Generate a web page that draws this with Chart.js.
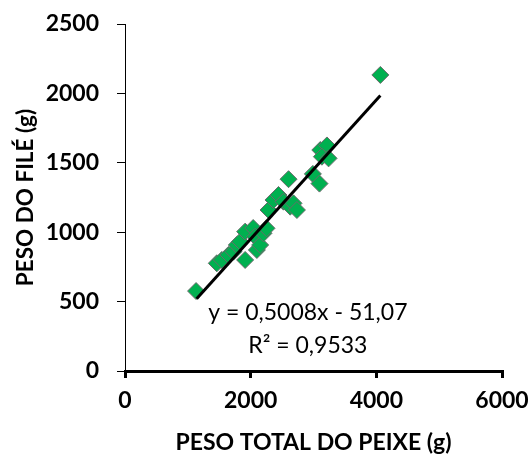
<!DOCTYPE html>
<html>
<head>
<meta charset="utf-8">
<script src="https://cdn.jsdelivr.net/npm/chart.js@4"></script>
<style>
  html, body { margin: 0; padding: 0; background: #fff; }
  #wrap { width: 531px; height: 459px; }
</style>
</head>
<body>
<div id="wrap"><canvas id="grafico"></canvas></div>
<script>
// dados: peso total do peixe (g) x peso do filé (g)
var pesoTotal = [1131, 1461, 1541, 1646, 1726, 1780, 1833, 1912, 1912, 2040, 2072, 2099, 2151, 2204, 2252,
                 2284, 2363, 2443, 2523, 2603, 2629, 2682, 2736, 2990, 3095, 3108, 3214, 3134, 3240, 4064];
var pesoFile  = [576, 776, 800, 836, 860, 908, 932, 1004, 800, 1030, 968, 872, 908, 992, 1028,
                 1160, 1232, 1268, 1220, 1382, 1184, 1208, 1160, 1420, 1350, 1592, 1625, 1544, 1532, 2133];

// linha de tendência (equação do Excel)
var inclinacao = 0.5008;
var intercepto = -51.07;
var limitesTendencia = [1140, 4064];
var textoEquacao = ['y = 0,5008x - 51,07', 'R² = 0,9533'];

var xTicks = [0, 2000, 4000, 6000];
var yTicks = [0, 500, 1000, 1500, 2000, 2500];

var pontos = pesoTotal.map(function (x, i) { return { x: x, y: pesoFile[i] }; });
var tendencia = limitesTendencia.map(function (x) { return { x: x, y: inclinacao * x + intercepto }; });

// escreve a equação perto da linha
var equacaoPlugin = {
    id: 'equacao',
    afterDatasetsDraw: function (chart) {
        var ctx = chart.ctx;
        var xs = chart.scales.x, ys = chart.scales.y;
        ctx.save();
        ctx.fillStyle = '#000';
        ctx.font = '23px Lato';
        ctx.textAlign = 'center';
        ctx.textBaseline = 'middle';
        ctx.fillText(textoEquacao[0], xs.getPixelForValue(2910), ys.getPixelForValue(418));
        ctx.fillText(textoEquacao[1], xs.getPixelForValue(2910), ys.getPixelForValue(186));
        ctx.restore();
    }
};

function semSeparador(v) { return String(v); }

const ctx = document.getElementById('grafico');
new Chart(ctx, {
    type: 'scatter',
    data: {
        datasets: [{
            label: 'Tendência',
            type: 'line',
            data: tendencia,
            borderColor: '#000',
            borderWidth: 3,
            pointRadius: 0,
            fill: false,
            order: 0
        }, {
            label: 'Peso do filé',
            data: pontos,
            pointStyle: 'rectRot',
            pointRadius: 8.5,
            backgroundColor: '#00B050',
            borderColor: '#6a6a6a',
            borderWidth: 1,
            order: 1
        }]
    },
    options: {
        responsive: true,
        maintainAspectRatio: false,
        animation: false,
        events: [],
        layout: { padding: { top: 24, right: 29, left: 0, bottom: 0 } },
        plugins: { legend: { display: false }, tooltip: { enabled: false } },
        scales: {
            x: {
                type: 'linear',
                min: 0, max: 6000,
                afterBuildTicks: function (s) { s.ticks = xTicks.map(function (v) { return { value: v }; }); },
                afterFit: function (s) { s.height = 88; s.paddingLeft = 0; s.paddingRight = 0; },
                grid: { drawOnChartArea: false, drawTicks: true, tickLength: 7, color: '#000', lineWidth: 3 },
                border: { display: true, color: '#000', width: 3 },
                ticks: { color: '#000', padding: 9, maxRotation: 0, callback: semSeparador,
                         font: { family: 'Lato', size: 23, weight: 'bold' } },
                title: {
                    display: true, text: 'PESO TOTAL DO PEIXE (g)', color: '#000',
                    font: { family: 'Lato', size: 23, weight: 'bold' },
                    padding: { top: 0, bottom: 3 }
                }
            },
            y: {
                type: 'linear',
                min: 0, max: 2500,
                afterBuildTicks: function (s) { s.ticks = yTicks.map(function (v) { return { value: v }; }); },
                afterFit: function (s) { s.width = 125; s.paddingTop = 0; s.paddingBottom = 0; },
                grid: { drawOnChartArea: false, drawTicks: true, tickLength: 8, color: '#000', lineWidth: 1 },
                border: { display: true, color: '#000', width: 1 },
                ticks: { color: '#000', padding: 18, callback: semSeparador,
                         font: { family: 'Lato', size: 23, weight: 'bold' } },
                title: {
                    display: true, text: 'PESO DO FILÉ (g)', color: '#000',
                    font: { family: 'Lato', size: 22.5, weight: 'bold' },
                    padding: { top: 12, bottom: 0 }
                }
            }
        }
    },
    plugins: [equacaoPlugin]
});
</script>
</body>
</html>
